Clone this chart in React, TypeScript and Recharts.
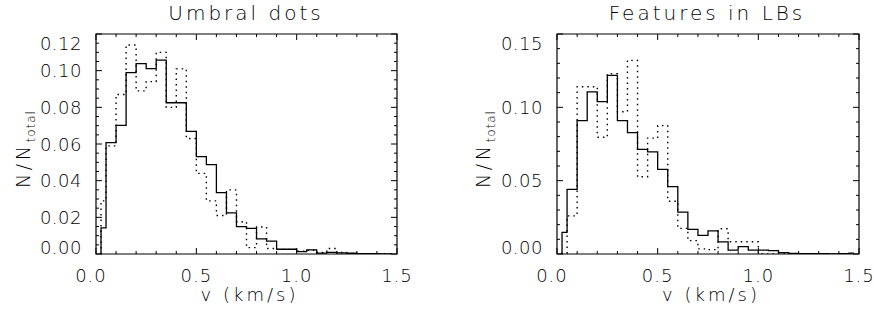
import { LineChart, Line, XAxis, YAxis, ReferenceArea } from 'recharts';

// bin centres (km/s), bin width 0.05
const BIN_CENTERS = [
  0.025, 0.075, 0.125, 0.175, 0.225, 0.275, 0.325, 0.375, 0.425, 0.475,
  0.525, 0.575, 0.625, 0.675, 0.725, 0.775, 0.825, 0.875, 0.925, 0.975,
  1.025, 1.075, 1.125, 1.175, 1.225, 1.275, 1.325, 1.375, 1.425, 1.475,
];

const UD_SOLID = [
  0.0142, 0.0607, 0.0702, 0.0989, 0.1038, 0.1011, 0.1058, 0.0825, 0.0825, 0.0669,
  0.0531, 0.0487, 0.0335, 0.0224, 0.0149, 0.014, 0.0082, 0.007, 0.0026, 0.0026,
  0.0013, 0.0022, 0.0005, 0.0009, 0.0006, 0.0004, 0.0002, 0.0002, 0.0001, 0.0001,
];
const UD_DOTTED = [
  0.029, 0.059, 0.087, 0.114, 0.089, 0.094, 0.11, 0.08, 0.101, 0.063,
  0.044, 0.029, 0.021, 0.035, 0.0176, 0.0035, 0.0147, 0.003, 0.0025, 0.0025,
  0.0015, 0.002, 0.0008, 0.003, 0.0008, 0.0003, 0.0002, 0.0001, 0.0001, 0,
];
const LB_SOLID = [
  0.0148, 0.0441, 0.0909, 0.1105, 0.1039, 0.1218, 0.0909, 0.0827, 0.0714, 0.0696,
  0.0577, 0.0459, 0.0286, 0.0168, 0.0127, 0.0157, 0.0082, 0.0027, 0.005, 0.0027,
  0.0027, 0.0023, 0.0009, 0.0004, 0.0003, 0.0002, 0.0002, 0.0001, 0.0002, 0.0006,
];
const LB_DOTTED = [
  0.0005, 0.026, 0.114, 0.114, 0.0796, 0.123, 0.097, 0.132, 0.0527, 0.079,
  0.0875, 0.036, 0.0175, 0.0091, 0.0035, 0.003, 0.0172, 0.0084, 0.0084, 0.0084,
  0, 0, 0, 0, 0, 0, 0, 0, 0, 0,
];

const X_TICKS = [0, 0.1, 0.2, 0.3, 0.4, 0.5, 0.6, 0.7, 0.8, 0.9, 1.0, 1.1, 1.2, 1.3, 1.4, 1.5];
const X_LABELS = [0, 0.5, 1.0, 1.5];
const UD_Y_TICKS = [0, 0.005, 0.01, 0.015, 0.02, 0.025, 0.03, 0.035, 0.04, 0.045, 0.05, 0.055, 0.06,
  0.065, 0.07, 0.075, 0.08, 0.085, 0.09, 0.095, 0.1, 0.105, 0.11, 0.115, 0.12];
const UD_Y_LABELS = [0, 0.02, 0.04, 0.06, 0.08, 0.1, 0.12];
const LB_Y_TICKS = [0, 0.01, 0.02, 0.03, 0.04, 0.05, 0.06, 0.07, 0.08, 0.09, 0.1, 0.11, 0.12, 0.13, 0.14, 0.15];
const LB_Y_LABELS = [0, 0.05, 0.1, 0.15];

const FONT = '"DejaVu Sans", sans-serif';
const WEIGHT = 200;
const TEXT_COLOR = '#000';
const CHART_W = 437;
const CHART_H = 320;
const PLOT_TOP = 34;
const PLOT_H = 220;

function buildData(solid: number[], dotted: number[]) {
  // leading zero point so the first bin gets its left edge
  const rows = [{ v: BIN_CENTERS[0], solid: 0, dotted: 0 }];
  BIN_CENTERS.forEach((c, i) => rows.push({ v: c, solid: solid[i], dotted: dotted[i] }));
  return rows;
}

const isIn = (list: number[], v: number) => list.some((l) => Math.abs(l - v) < 1e-9);

function makeXTick() {
  return (props: any) => {
    const { x, y, payload } = props;
    const v = payload.value;
    const major = isIn(X_LABELS, v);
    const len = major ? 6 : 3;
    return (
      <g>
        <line x1={x} x2={x} y1={y} y2={y - len} stroke="#000" />
        <line x1={x} x2={x} y1={y - PLOT_H} y2={y - PLOT_H + len} stroke="#000" />
        {major && (
          <text
            x={x + (v === 0 ? -5 : 0)}
            y={y + 28}
            textAnchor="middle"
            fontFamily={FONT}
            fontWeight={WEIGHT}
            fontSize={18}
            fill={TEXT_COLOR}
            letterSpacing={1}
          >
            {v.toFixed(1)}
          </text>
        )}
      </g>
    );
  };
}

function makeYTick(labels: number[], max: number, plotW: number) {
  return (props: any) => {
    const { x, y, payload } = props;
    const v = payload.value;
    const major = isIn(labels, v);
    const len = major ? 6 : 3;
    let shift = 0;
    if (Math.abs(v - max) < 1e-9) shift = 9;
    if (v === 0) shift = -7;
    return (
      <g>
        <line x1={x} x2={x + len} y1={y} y2={y} stroke="#000" />
        <line x1={x + plotW} x2={x + plotW - len} y1={y} y2={y} stroke="#000" />
        {major && (
          <text
            x={x - 14}
            y={y + 6.5 + shift}
            textAnchor="end"
            fontFamily={FONT}
            fontWeight={WEIGHT}
            fontSize={18}
            fill={TEXT_COLOR}
            letterSpacing={0.5}
          >
            {v.toFixed(2)}
          </text>
        )}
      </g>
    );
  };
}

interface PanelProps {
  left: number;
  yAxisWidth: number;
  rightMargin: number;
  solid: number[];
  dotted: number[];
  yMax: number;
  yTicks: number[];
  yLabels: number[];
  title: string;
  titleX: number;
  ylabelX: number;
}

function Panel(p: PanelProps) {
  const data = buildData(p.solid, p.dotted);
  const plotW = CHART_W - p.yAxisWidth - p.rightMargin;
  return (
    <div style={{ position: 'absolute', left: p.left, top: 0, width: CHART_W, height: CHART_H }}>
      <LineChart
        width={CHART_W}
        height={CHART_H}
        data={data}
        margin={{ top: PLOT_TOP, right: p.rightMargin, bottom: 0, left: 0 }}
      >
        <XAxis
          dataKey="v"
          type="number"
          domain={[0, 1.5]}
          ticks={X_TICKS}
          interval={0}
          allowDataOverflow
          axisLine={false}
          tickLine={false}
          tickSize={0}
          tickMargin={0}
          height={CHART_H - PLOT_TOP - PLOT_H}
          tick={makeXTick()}
        />
        <YAxis
          type="number"
          domain={[0, p.yMax]}
          ticks={p.yTicks}
          interval={0}
          allowDataOverflow
          axisLine={false}
          tickLine={false}
          tickSize={0}
          tickMargin={0}
          width={p.yAxisWidth}
          tick={makeYTick(p.yLabels, p.yMax, plotW)}
        />
        <ReferenceArea x1={0} x2={1.5} y1={0} y2={p.yMax} fill="none" stroke="#000" strokeWidth={1.2} />
        <Line
          type="step"
          dataKey="dotted"
          stroke="#000"
          strokeWidth={1.4}
          strokeDasharray="1.5 4"
          dot={false}
          isAnimationActive={false}
        />
        <Line
          type="step"
          dataKey="solid"
          stroke="#000"
          strokeWidth={1.3}
          dot={false}
          isAnimationActive={false}
        />
      </LineChart>
      <div
        style={{
          position: 'absolute',
          left: p.titleX - 150,
          width: 300,
          top: 1,
          textAlign: 'center',
          fontFamily: FONT,
          fontWeight: WEIGHT,
          fontSize: 20,
          letterSpacing: 3,
          color: TEXT_COLOR,
          whiteSpace: 'nowrap',
        }}
      >
        {p.title}
      </div>
      <div
        style={{
          position: 'absolute',
          left: p.yAxisWidth + plotW / 2 - 97,
          width: 200,
          top: 284,
          textAlign: 'center',
          fontFamily: FONT,
          fontWeight: WEIGHT,
          fontSize: 18,
          letterSpacing: 3,
          color: TEXT_COLOR,
          whiteSpace: 'nowrap',
        }}
      >
        v (km/s)
      </div>
      <div
        style={{
          position: 'absolute',
          left: p.ylabelX - 60,
          top: 149 - 12,
          width: 120,
          height: 24,
          lineHeight: '24px',
          textAlign: 'center',
          transform: 'rotate(-90deg)',
          fontFamily: FONT,
          fontWeight: WEIGHT,
          fontSize: 19,
          letterSpacing: 3.5,
          color: TEXT_COLOR,
          whiteSpace: 'nowrap',
        }}
      >
        N/N<sub style={{ fontSize: 12, letterSpacing: 1 }}>total</sub>
      </div>
    </div>
  );
}

export default function App() {
  return (
    <div style={{ position: 'absolute', left: 0, top: 0, width: 874, height: 320, background: '#fff' }}>
      <Panel
        left={0}
        yAxisWidth={96}
        rightMargin={40}
        solid={UD_SOLID}
        dotted={UD_DOTTED}
        yMax={0.12}
        yTicks={UD_Y_TICKS}
        yLabels={UD_Y_LABELS}
        title="Umbral dots"
        titleX={246}
        ylabelX={23}
      />
      <Panel
        left={437}
        yAxisWidth={120}
        rightMargin={15}
        solid={LB_SOLID}
        dotted={LB_DOTTED}
        yMax={0.15}
        yTicks={LB_Y_TICKS}
        yLabels={LB_Y_LABELS}
        title="Features in LBs"
        titleX={270}
        ylabelX={46}
      />
    </div>
  );
}
